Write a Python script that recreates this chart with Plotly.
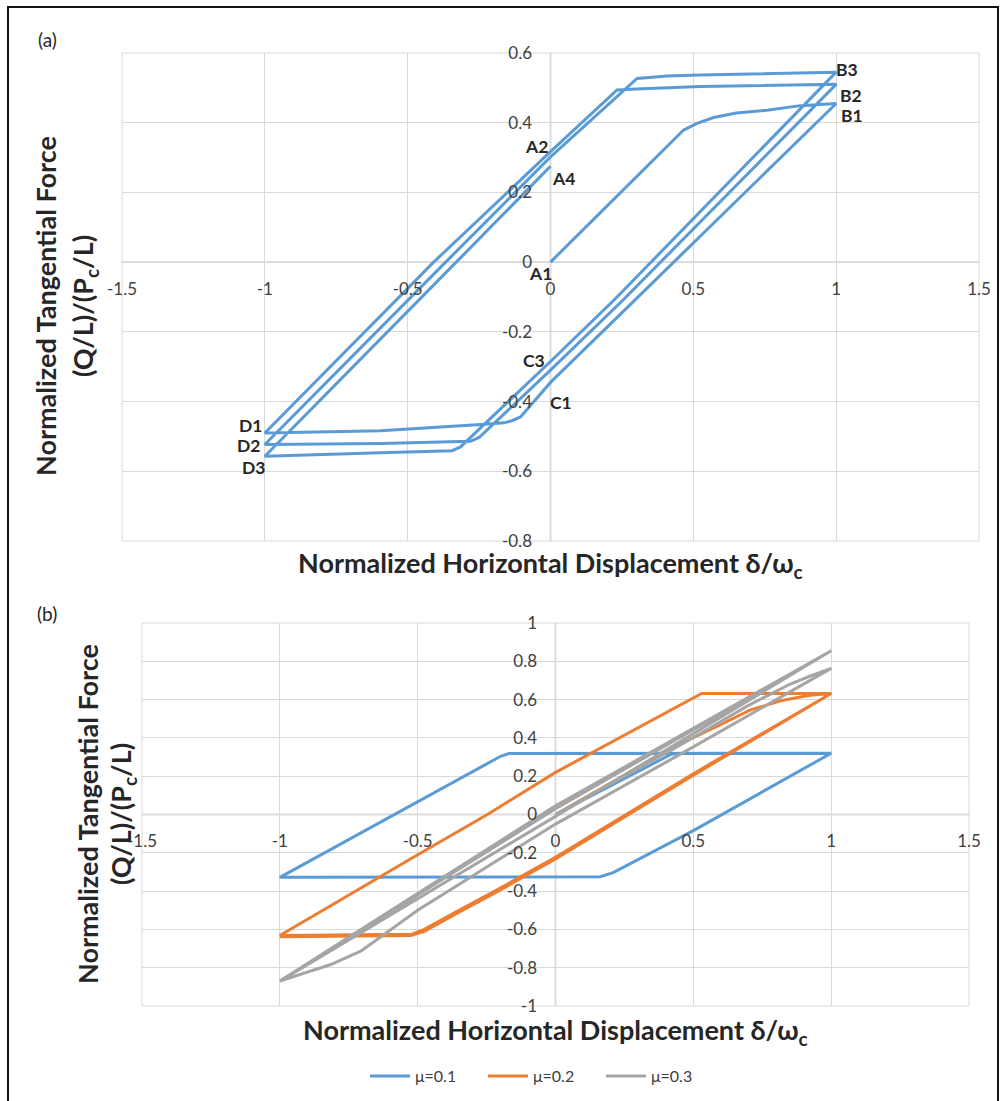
import plotly.graph_objects as go

W, H = 1001, 1101

# ---------------- Panel (a) data : single hysteresis path A1 -> B1 -> C1 -> D1 -> A2 -> B2 -> ... -> A4
a_x = [0.0, 0.466, 0.513, 0.571, 0.65, 0.758, 0.874, 1.0,
       0.315, 0.0, -0.105, -0.135, -0.163, -0.245, -0.594, -1.0,
       -0.409, 0.0, 0.233, 0.3, 0.524, 0.9, 1.0,
       0.255, 0.0, -0.25, -0.28, -0.594, -1.0,
       -0.367, 0.0, 0.303, 0.408, 0.524, 0.909, 1.0,
       0.227, 0.0, -0.315, -0.344, -0.594, -1.0,
       -0.33, 0.0]
a_y = [0.0, 0.379, 0.398, 0.415, 0.428, 0.436, 0.449, 0.455,
       -0.093, -0.345, -0.444, -0.455, -0.461, -0.466, -0.484, -0.49,
       0.0, 0.317, 0.494, 0.497, 0.504, 0.51, 0.51,
       -0.108, -0.31, -0.503, -0.514, -0.52, -0.523,
       0.0, 0.302, 0.527, 0.534, 0.537, 0.544, 0.545,
       -0.105, -0.285, -0.53, -0.541, -0.547, -0.557,
       0.0, 0.275]

a_labels = ["A1", "A2", "A4", "B1", "B2", "B3", "C1", "C3", "D1", "D2", "D3"]
a_label_x = [-0.035, -0.049, 0.045, 1.056, 1.052, 1.038, 0.038, -0.059, -1.049, -1.056, -1.038]
a_label_y = [-0.032, 0.333, 0.241, 0.422, 0.479, 0.554, -0.402, -0.281, -0.468, -0.525, -0.588]

# ---------------- Panel (b) data
mu1_x = [0.0, 0.42, 0.45, 1.0, 0.5, 0.211, 0.163, -1.0, -0.199, -0.169, 1.0]
mu1_y = [0.0, 0.315, 0.318, 0.32, -0.084, -0.302, -0.325, -0.328, 0.304, 0.318, 0.32]

mu2_x = [0.0, 0.428, 0.6, 0.705, 0.826, 0.922, 1.0,
         0.5, 0.0, -0.22, -0.35, -0.476, -0.52, -1.0,
         -0.5, -0.247, 0.0, 0.53, 1.0,
         0.5, 0.0, -0.22, -0.35, -0.476, -0.525, -1.0]
mu2_y = [0.0, 0.352, 0.47, 0.545, 0.597, 0.623, 0.632,
         0.213, -0.223, -0.40, -0.50, -0.60, -0.625, -0.632,
         -0.21, 0.0, 0.22, 0.632, 0.632,
         0.205, -0.232, -0.41, -0.51, -0.61, -0.632, -0.638]

mu3_x = [0.0, 0.45, 0.7, 0.85, 0.922, 1.0,
         0.5, 0.0, -0.5, -0.705, -0.813, -1.0,
         0.0, 1.0,
         0.0, -1.0,
         0.0, 1.0]
mu3_y = [0.0, 0.36, 0.57, 0.68, 0.722, 0.763,
         0.353, -0.05, -0.5, -0.712, -0.782, -0.87,
         0.03, 0.855,
         -0.01, -0.87,
         0.045, 0.855]

series_names = ["μ=0.1", "μ=0.2", "μ=0.3"]
series_colors = ["#5B9BD5", "#ED7D31", "#A5A5A5"]

x_tick_vals = [-1.5, -1, -0.5, 0, 0.5, 1, 1.5]
x_tick_text = ["-1.5", "-1", "-0.5", "0", "0.5", "1", "1.5"]
a_y_tick_vals = [-0.8, -0.6, -0.4, -0.2, 0, 0.2, 0.4, 0.6]
a_y_tick_text = ["-0.8", "-0.6", "-0.4", "-0.2", "0", "0.2", "0.4", "0.6"]
b_y_tick_vals = [-1, -0.8, -0.6, -0.4, -0.2, 0, 0.2, 0.4, 0.6, 0.8, 1]
b_y_tick_text = ["-1", "-0.8", "-0.6", "-0.4", "-0.2", "0", "0.2", "0.4", "0.6", "0.8", "1"]

FONT = "Lato"
TICK_COLOR = "#404040"
TITLE_COLOR = "#262626"
GRID = "#D9D9D9"
AXIS = "#BFBFBF"


def fx(px):
    return px / W


def fy(py):
    return 1 - py / H


fig = go.Figure()

fig.add_trace(go.Scatter(x=a_x, y=a_y, mode="lines", line=dict(color="#5B9BD5", width=3),
                         showlegend=False, xaxis="x", yaxis="y"))

for xs, ys, name, col in zip([mu1_x, mu2_x, mu3_x], [mu1_y, mu2_y, mu3_y], series_names, series_colors):
    fig.add_trace(go.Scatter(x=xs, y=ys, mode="lines", name=name, line=dict(color=col, width=3),
                             xaxis="x2", yaxis="y2"))

tickfont = dict(family=FONT, size=17, color=TICK_COLOR)

# panel geometry (pixels)
ax0, ax1, ay0, ay1 = 122, 979, 53, 541
bx0, bx1, by0, by1 = 142, 969, 623, 1006

common_x = dict(range=[-1.5, 1.5], tickvals=x_tick_vals, ticktext=x_tick_text, showgrid=True,
                gridcolor=GRID, gridwidth=1, zeroline=False, showline=False, ticks="",
                tickfont=tickfont, ticklabelstandoff=15, anchor="free", automargin=False)
common_y = dict(showgrid=True, gridcolor=GRID, gridwidth=1, zeroline=False, showline=False, ticks="",
                tickfont=tickfont, ticklabelstandoff=18, anchor="free", automargin=False)

fig.update_layout(
    template="none",
    xaxis=dict(domain=[fx(ax0), fx(ax1)], position=fy(262), **common_x),
    yaxis=dict(domain=[fy(ay1), fy(ay0)], range=[-0.8, 0.6], tickvals=a_y_tick_vals,
               ticktext=a_y_tick_text, position=fx(550), **common_y),
    xaxis2=dict(domain=[fx(bx0), fx(bx1)], position=fy(814), **common_x),
    yaxis2=dict(domain=[fy(by1), fy(by0)], range=[-1, 1], tickvals=b_y_tick_vals,
                ticktext=b_y_tick_text, position=fx(555), **common_y),
)

shapes = []
for xr, yr in [("x", "y"), ("x2", "y2")]:
    shapes.append(dict(type="rect", xref=f"{xr} domain", yref=f"{yr} domain", x0=0, x1=1, y0=0, y1=1,
                       line=dict(color=GRID, width=1), layer="below"))
shapes.append(dict(type="line", xref="x", yref="y domain", x0=0, x1=0, y0=0, y1=1,
                   line=dict(color=AXIS, width=1.5), layer="below"))
shapes.append(dict(type="line", xref="x domain", yref="y", x0=0, x1=1, y0=0, y1=0,
                   line=dict(color=AXIS, width=1.5), layer="below"))
shapes.append(dict(type="line", xref="x2", yref="y2 domain", x0=0, x1=0, y0=0, y1=1,
                   line=dict(color=AXIS, width=1.5), layer="below"))
shapes.append(dict(type="line", xref="x2 domain", yref="y2", x0=0, x1=1, y0=0, y1=0,
                   line=dict(color=AXIS, width=1.5), layer="below"))
shapes.append(dict(type="rect", xref="paper", yref="paper", x0=fx(8), x1=fx(998), y0=fy(1110), y1=fy(7),
                   line=dict(color="#111111", width=2)))

annotations = []
for t, x, y in zip(a_labels, a_label_x, a_label_y):
    annotations.append(dict(text=f"<b>{t}</b>", x=x, y=y, xref="x", yref="y", showarrow=False,
                            xanchor="center", yanchor="middle",
                            font=dict(family=FONT, size=17.5, color=TITLE_COLOR)))

title_font = dict(family=FONT, size=27, color=TITLE_COLOR)
xt = "<b>Normalized Horizontal Displacement δ/ω<sub>c</sub></b>"
annotations += [
    dict(text="(a)", x=fx(47), y=fy(40), xref="paper", yref="paper", showarrow=False,
         xanchor="center", yanchor="middle", font=dict(family=FONT, size=19, color=TITLE_COLOR)),
    dict(text="(b)", x=fx(47), y=fy(613), xref="paper", yref="paper", showarrow=False,
         xanchor="center", yanchor="middle", font=dict(family=FONT, size=19, color=TITLE_COLOR)),
    dict(text=xt, x=fx(550), y=fy(564), xref="paper", yref="paper", showarrow=False,
         xanchor="center", yanchor="middle", font=title_font),
    dict(text=xt, x=fx(555), y=fy(1031), xref="paper", yref="paper", showarrow=False,
         xanchor="center", yanchor="middle", font=title_font),
    dict(text="<b>Normalized Tangential Force</b>", x=fx(45), y=fy(306), xref="paper", yref="paper",
         showarrow=False, textangle=-90, xanchor="center", yanchor="middle", font=title_font),
    dict(text="<b>(Q/L)/(P<sub>c</sub>/L)</b>", x=fx(84), y=fy(306), xref="paper", yref="paper",
         showarrow=False, textangle=-90, xanchor="center", yanchor="middle", font=title_font),
    dict(text="<b>Normalized Tangential Force</b>", x=fx(87), y=fy(814), xref="paper", yref="paper",
         showarrow=False, textangle=-90, xanchor="center", yanchor="middle", font=title_font),
    dict(text="<b>(Q/L)/(P<sub>c</sub>/L)</b>", x=fx(122), y=fy(814), xref="paper", yref="paper",
         showarrow=False, textangle=-90, xanchor="center", yanchor="middle", font=title_font),
]

fig.update_layout(
    width=W, height=H, autosize=False,
    margin=dict(l=0, r=0, t=0, b=0, pad=0),
    paper_bgcolor="white", plot_bgcolor="white",
    font=dict(family=FONT, color=TICK_COLOR),
    shapes=shapes, annotations=annotations,
    showlegend=True,
    legend=dict(orientation="h", x=fx(365), y=fy(1076), xanchor="left", yanchor="middle",
                font=dict(family=FONT, size=16, color=TICK_COLOR), itemwidth=40,
                entrywidth=63, entrywidthmode="pixels", bgcolor="rgba(0,0,0,0)"),
)

fig.write_html("out.html", config={"displayModeBar": False},
               post_script="document.body.style.margin='0';")
